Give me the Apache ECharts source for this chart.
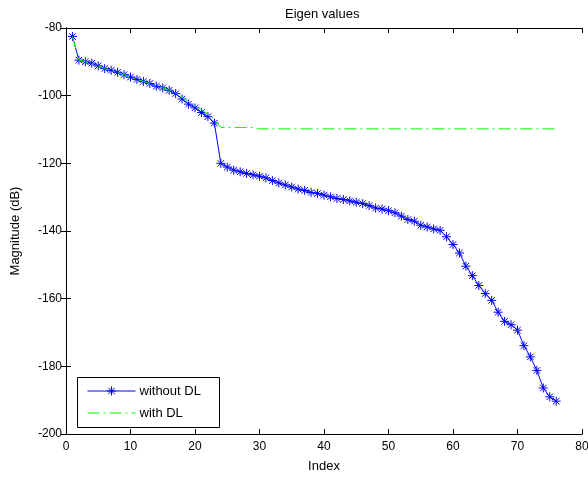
<!DOCTYPE html>
<html lang="en">
<head>
    <meta charset="UTF-8">
    <title>Eigen values</title>
    <script src="https://cdn.jsdelivr.net/npm/echarts@6/dist/echarts.min.js"></script>
    <style>
        html, body { margin: 0; padding: 0; background: #fff; }
        #chart { width: 588px; height: 479px; }
    </style>
</head>
<body>
<div id="chart"></div>
<script>
    // index of each eigen value
    var idx = [1, 2, 3, 4, 5, 6, 7, 8, 9, 10, 11, 12, 13, 14, 15, 16, 17, 18, 19, 20,
        21, 22, 23, 24, 25, 26, 27, 28, 29, 30, 31, 32, 33, 34, 35, 36, 37, 38, 39, 40,
        41, 42, 43, 44, 45, 46, 47, 48, 49, 50, 51, 52, 53, 54, 55, 56, 57, 58, 59, 60,
        61, 62, 63, 64, 65, 66, 67, 68, 69, 70, 71, 72, 73, 74, 75, 76];
    var withoutDL = [-82.5, -89.5, -90.0, -90.4, -91.2, -92.0, -92.5, -93.1, -93.8, -94.5,
        -95.2, -95.8, -96.4, -97.2, -97.7, -98.4, -99.4, -101.0, -102.5, -103.6,
        -105.0, -106.2, -108.1, -120.0, -121.1, -122.0, -122.5, -123.0, -123.4, -123.8,
        -124.3, -125.1, -125.8, -126.4, -127.0, -127.6, -128.0, -128.6, -128.9, -129.4,
        -129.9, -130.4, -130.7, -131.1, -131.5, -131.9, -132.5, -133.2, -133.5, -134.0,
        -134.6, -135.6, -136.6, -137.1, -138.3, -138.8, -139.4, -139.8, -141.7, -144.0,
        -146.5, -150.4, -153.2, -156.1, -158.5, -160.5, -164.0, -166.7, -167.7, -169.3,
        -173.9, -177.2, -181.2, -186.4, -189.0, -190.3];
    var withDL = [-82.5, -89.5, -90.0, -90.4, -91.2, -92.0, -92.5, -93.1, -93.8, -94.5,
        -95.2, -95.8, -96.4, -97.2, -97.7, -98.4, -99.2, -100.4, -101.8, -103.0,
        -104.2, -105.4, -107.0, -109.4, -109.4, -109.4, -109.4, -109.4, -109.4, -109.8,
        -109.8, -109.8, -109.8, -109.8, -109.8, -109.8, -109.8, -109.8, -109.8, -109.8,
        -109.8, -109.8, -109.8, -109.8, -109.8, -109.8, -109.8, -109.8, -109.8, -109.8,
        -109.8, -109.8, -109.8, -109.8, -109.8, -109.8, -109.8, -109.8, -109.8, -109.8,
        -109.8, -109.8, -109.8, -109.8, -109.8, -109.8, -109.8, -109.8, -109.8, -109.8,
        -109.8, -109.8, -109.8, -109.8, -109.8, -109.8];
    var seriesNames = ['without DL', 'with DL'];

    function pairs(ys) {
        var out = [];
        for (var i = 0; i < idx.length; i++) {
            out.push([idx[i], ys[i]]);
        }
        return out;
    }

    var font = "'Liberation Sans', Arial, sans-serif";
    var star = 'path://M0,-5L0,5M-5,0L5,0M-3.6,-3.6L3.6,3.6M-3.6,3.6L3.6,-3.6';
    var blue = '#0000ff';
    var green = '#00ff00';
    var dashDot = [12, 4, 2, 4];

    var axisBase = {
        axisLine: { lineStyle: { color: '#000', width: 1 } },
        axisTick: { inside: true, length: 5, lineStyle: { color: '#000' } },
        splitLine: { show: false }
    };

    // legend box drawn by hand, MATLAB style
    function seg(x1, y1, x2, y2, color, dash) {
        return { type: 'line', shape: { x1: x1, y1: y1, x2: x2, y2: y2 },
                 style: { stroke: color, lineWidth: 1, lineDash: dash || null } };
    }
    var lx = 77, ly = 377;
    var legendBox = {
        type: 'group', left: lx, top: ly, z: 100,
        children: [
            { type: 'rect', shape: { x: 0, y: 0, width: 142, height: 50 },
              style: { fill: '#fff', stroke: '#000', lineWidth: 1 } },
            seg(10, 13.5, 58, 13.5, blue),
            seg(34, 9, 34, 18, blue),
            seg(29.5, 13.5, 38.5, 13.5, blue),
            seg(30.8, 10.3, 37.2, 16.7, blue),
            seg(30.8, 16.7, 37.2, 10.3, blue),
            { type: 'text', x: 62, y: 13.5,
              style: { text: seriesNames[0], fill: '#000', font: '13px ' + font, verticalAlign: 'middle' } },
            seg(10, 35.5, 58, 35.5, green, dashDot),
            { type: 'text', x: 62, y: 35.5,
              style: { text: seriesNames[1], fill: '#000', font: '13px ' + font, verticalAlign: 'middle' } }
        ]
    };

    var myChart = echarts.init(document.getElementById('chart'));
    var option = {
        animation: false,
        backgroundColor: '#fff',
        title: {
            text: 'Eigen values',
            left: 280,
            top: 3,
            textStyle: { fontFamily: font, fontSize: 13, fontWeight: 'normal', color: '#000' }
        },
        grid: {
            left: 66,
            right: 6,
            top: 28,
            bottom: 45,
            outerBoundsMode: 'none',
            show: false
        },
        graphic: [legendBox],
        xAxis: [
            Object.assign({}, axisBase, {
                type: 'value', min: 0, max: 80, interval: 10,
                name: 'Index', nameLocation: 'middle', nameGap: 26,
                nameTextStyle: { fontFamily: font, fontSize: 13, color: '#000' },
                axisLabel: { fontFamily: font, fontSize: 12, color: '#000', margin: 7 }
            }),
            Object.assign({}, axisBase, {
                type: 'value', min: 0, max: 80, interval: 10, position: 'top',
                axisLabel: { show: false }
            })
        ],
        yAxis: [
            Object.assign({}, axisBase, {
                type: 'value', min: -200, max: -80, interval: 20,
                name: 'Magnitude (dB)', nameLocation: 'middle', nameGap: 44,
                nameTextStyle: { fontFamily: font, fontSize: 13, color: '#000' },
                axisLabel: { fontFamily: font, fontSize: 12, color: '#000', margin: 4 }
            }),
            Object.assign({}, axisBase, {
                type: 'value', min: -200, max: -80, interval: 20, position: 'right',
                axisLabel: { show: false }
            })
        ],
        series: [
            {
                name: seriesNames[0],
                type: 'line',
                data: pairs(withoutDL),
                symbol: star,
                symbolSize: 9,
                showAllSymbol: true,
                z: 3,
                lineStyle: { color: blue, width: 1 },
                itemStyle: { color: blue, borderColor: blue, borderWidth: 1 }
            },
            {
                name: seriesNames[1],
                type: 'line',
                data: pairs(withDL),
                symbol: 'none',
                z: 4,
                lineStyle: { color: green, width: 1, type: dashDot },
                itemStyle: { color: green }
            }
        ]
    };
    myChart.setOption(option);
</script>
</body>
</html>
